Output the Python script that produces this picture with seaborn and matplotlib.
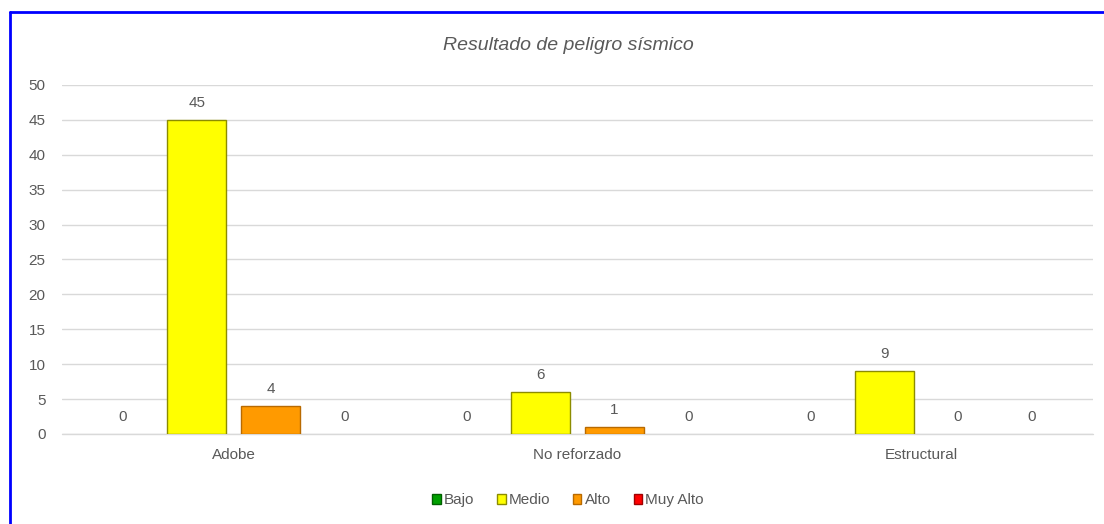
import matplotlib
matplotlib.use("Agg")
import matplotlib.pyplot as plt
from matplotlib.lines import Line2D
import pandas as pd
import seaborn as sns

# Data
categories = ["Adobe", "No reforzado", "Estructural"]
levels = ["Bajo", "Medio", "Alto", "Muy Alto"]
bajo = [0, 0, 0]
medio = [45, 6, 9]
alto = [4, 1, 0]
muy_alto = [0, 0, 0]

colors = {"Bajo": "#00A000", "Medio": "#FFFF00", "Alto": "#FF9A00", "Muy Alto": "#FF0000"}
edges = {"Bajo": "#006000", "Medio": "#8C8C00", "Alto": "#B86A00", "Muy Alto": "#A00000"}

rows = []
for lvl, vals in zip(levels, [bajo, medio, alto, muy_alto]):
    for cat, v in zip(categories, vals):
        rows.append({"Tipo": cat, "Nivel": lvl, "Cantidad": v})
df = pd.DataFrame(rows)

sns.set_theme(style="white")
plt.rcParams["font.family"] = ["Liberation Sans", "DejaVu Sans"]
text_color = "#595959"

fig = plt.figure(figsize=(11.04, 5.24), dpi=100)
ax = fig.add_axes([0.0562, 0.1718, 0.9338, 0.666])

sns.barplot(data=df, x="Tipo", y="Cantidad", hue="Nivel", order=categories,
            hue_order=levels, palette=colors, width=0.86, gap=0.2,
            saturation=1, errorbar=None, legend=False, ax=ax)

for container, lvl in zip(ax.containers, levels):
    for patch in container:
        patch.set_edgecolor(edges[lvl])
        patch.set_linewidth(1.0 if patch.get_height() > 0 else 0)
    ax.bar_label(container, fmt="%d", padding=7, fontsize=11, color=text_color)

ax.set_xlim(-0.5, 2.5)
ax.set_ylim(0, 50)
ax.set_yticks(range(0, 51, 5))
ax.grid(axis="y", color="#D9D9D9", linewidth=1)
ax.axhline(0, color="#D9D9D9", linewidth=1, clip_on=False, zorder=0.5)
ax.set_axisbelow(True)
for s in ax.spines.values():
    s.set_visible(False)
ax.tick_params(axis="both", length=0, labelsize=11, colors=text_color)
ax.tick_params(axis="y", pad=12)
ax.tick_params(axis="x", pad=10)
ax.set_xlabel("")
ax.set_ylabel("")

fig.text(0.5145, 0.913, "Resultado de peligro sísmico", ha="center", va="center",
         fontsize=14, style="italic", color=text_color)

handles = [plt.Rectangle((0, 0), 1, 1, facecolor=colors[l], edgecolor=edges[l]) for l in levels]
fig.legend(handles, levels, loc="center", bbox_to_anchor=(0.5145, 0.045), ncol=4,
           frameon=False, fontsize=11, handlelength=0.55, handleheight=0.55,
           handletextpad=0.2, columnspacing=1.5, labelcolor=text_color)

# blue frame (top and left edges visible)
fig.add_artist(Line2D([10 / 1104, 1.0], [1 - 12 / 524] * 2, color="#0000FF", linewidth=2,
                      transform=fig.transFigure))
fig.add_artist(Line2D([10 / 1104] * 2, [0, 1 - 12 / 524], color="#0000FF", linewidth=2,
                      transform=fig.transFigure))

fig.savefig("out.png", dpi=100)
